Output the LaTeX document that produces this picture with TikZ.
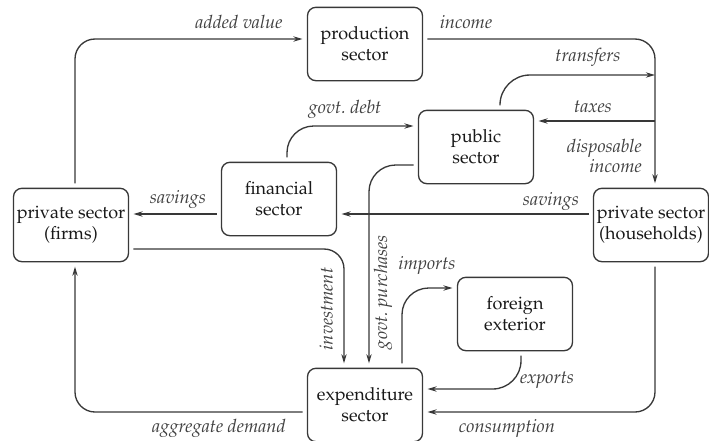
\documentclass[tikz,border=0pt]{standalone}
\usepackage[T1]{fontenc}
\usepackage{mathpazo}
\usetikzlibrary{arrows.meta}
\begin{document}
\begin{tikzpicture}[x=0.6pt,y=-0.6pt,
  sector/.style={draw=black!78, line width=0.8pt, rounded corners=5pt, minimum width=69pt, minimum height=44pt, align=center, inner sep=0pt, outer sep=3pt, text=black!90, font=\fontsize{10.8}{12.6}\selectfont},
  flow/.style={draw=black!78, line width=0.8pt, -{Stealth[length=5.5pt,width=3.2pt]}},
  lbl/.style={text=black!75, font=\fontsize{11}{12.5}\selectfont\itshape, inner sep=0pt}]
\useasboundingbox (0,0) rectangle (709,440);
\node[sector] (prod) at (365,44) {production\\sector};
\node[sector] (pub) at (476,147) {public\\sector};
\node[sector] (fin) at (279,199) {financial\\sector};
\node[sector] (firms) at (71,225) {private sector\\(firms)};
\node[sector] (hh) at (651,225) {private sector\\(households)};
\node[sector] (forn) at (515,314) {foreign\\exterior};
\node[sector] (exp) at (365,405) {expenditure\\sector};
\coordinate (tr) at (655,75);
\coordinate (tx) at (655,121);
% connectors
\draw[flow, rounded corners=12pt] (firms.north -| 75,0) |- (prod.west |- 0,39);
\draw[flow, rounded corners=12pt] (prod.east |- 0,39) -| (hh.north -| 655,0);
\draw[flow, rounded corners=18pt] (pub.north -| 500,0) |- (tr);
\draw[flow] (tx) -- (pub.east |- tx);
\draw[flow, rounded corners=16pt] (fin.north -| 287,0) |- (pub.west |- 0,126);
\draw[flow] (hh.west |- 0,214) -- (fin.east |- 0,214);
\draw[flow] (fin.west |- 0,214) -- (firms.east |- 0,214);
\draw[flow, rounded corners=12pt] (firms.east |- 0,249) -| (exp.north -| 344,0);
\draw[flow, rounded corners=16pt] (pub.west |- 0,165) -| (exp.north -| 369,0);
\draw[flow, rounded corners=16pt] (exp.north -| 402,0) |- (forn.west |- 0,288);
\draw[flow, rounded corners=17pt] (forn.south -| 521,0) |- (exp.east |- 0,389);
\draw[flow, rounded corners=12pt] (hh.south -| 655,0) |- (exp.east |- 0,412);
\draw[flow, rounded corners=12pt] (exp.west |- 0,412) -| (firms.south -| 75,0);
% labels
\node[lbl] (l1) at (239,22) {added value};
\node[lbl] (l2) at (466,22) {income};
\node[lbl] (l3) at (588,57) {transfers};
\node[lbl] (l4) at (593,107) {taxes};
\node[lbl, align=right, anchor=east] (l5) at (642,156) {disposable\\income};
\node[lbl] (l6) at (345,109) {govt.\ debt};
\node[lbl] (l7) at (178,199) {savings};
\node[lbl] (l8) at (551,201) {savings};
\node[lbl, rotate=90] (l9) at (326,309) {investment};
\node[lbl, rotate=90] (l10) at (383,292) {govt.\ purchases};
\node[lbl] (l11) at (427,265) {imports};
\node[lbl] (l12) at (547,380) {exports};
\node[lbl] (l13) at (507,428) {consumption};
\node[lbl] (l14) at (219,428) {aggregate demand};
\end{tikzpicture}
\end{document}
